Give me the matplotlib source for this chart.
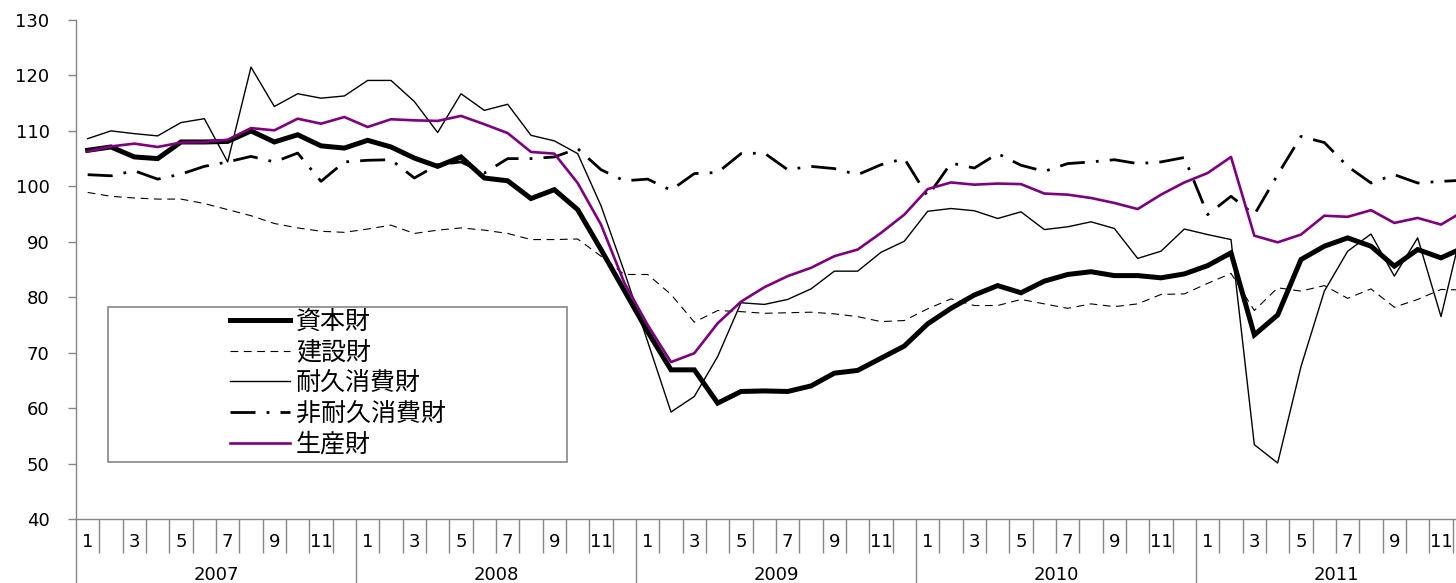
import numpy as np
import matplotlib
matplotlib.use("Agg")
import matplotlib.pyplot as plt
from matplotlib.patches import Rectangle

plt.rcParams['font.family'] = ['DejaVu Sans', 'Noto Sans CJK JP']

# 月次データ 2007/1 - 2011/12
years = ['2007', '2008', '2009', '2010', '2011']
month_labels = ['1', '', '3', '', '5', '', '7', '', '9', '', '11', ''] * 5

series_names = ['資本財', '建設財', '耐久消費財', '非耐久消費財', '生産財']

capital = [106.5, 107.1, 105.3, 105.0, 108.0, 108.0, 108.1, 110.0, 108.0, 109.3, 107.3, 106.9,
           108.3, 107.1, 105.1, 103.6, 105.3, 101.5, 101.0, 97.8, 99.4, 95.8, 88.6, 81.2,
           73.8, 66.9, 66.9, 60.9, 63.0, 63.1, 63.0, 64.0, 66.3, 66.8, 69.0, 71.2,
           75.2, 78.0, 80.4, 82.1, 80.8, 82.9, 84.1, 84.6, 83.9, 83.9, 83.5, 84.2,
           85.7, 88.0, 73.2, 76.8, 86.8, 89.2, 90.7, 89.2, 85.6, 88.6, 87.1, 89.0]

construction = [98.9, 98.2, 97.9, 97.7, 97.7, 96.9, 95.8, 94.7, 93.3, 92.5, 91.9, 91.7,
                92.3, 93.0, 91.5, 92.1, 92.5, 92.1, 91.5, 90.4, 90.4, 90.5, 87.4, 84.1,
                84.1, 80.5, 75.5, 77.6, 77.4, 77.1, 77.2, 77.3, 77.0, 76.5, 75.6, 75.8,
                77.9, 79.7, 78.5, 78.5, 79.6, 78.8, 78.0, 78.8, 78.3, 78.8, 80.5, 80.6,
                82.5, 84.3, 77.6, 81.7, 81.1, 82.1, 79.8, 81.5, 78.2, 79.6, 81.4, 81.3]

durable = [108.6, 110.0, 109.5, 109.1, 111.5, 112.2, 104.4, 121.5, 114.4, 116.7, 115.9, 116.3,
           119.1, 119.1, 115.3, 109.7, 116.7, 113.7, 114.8, 109.2, 108.2, 105.9, 96.5, 84.6,
           72.0, 59.3, 62.1, 69.3, 79.0, 78.7, 79.6, 81.5, 84.7, 84.7, 88.1, 90.1,
           95.5, 96.0, 95.6, 94.2, 95.4, 92.2, 92.7, 93.6, 92.4, 87.0, 88.3, 92.3,
           91.3, 90.4, 53.4, 50.1, 67.5, 81.1, 88.3, 91.4, 83.8, 90.7, 76.5, 94.1]

nondurable = [102.1, 101.9, 102.8, 101.3, 102.2, 103.6, 104.4, 105.4, 104.4, 106.0, 100.9, 104.4,
              104.7, 104.8, 101.5, 103.9, 104.4, 102.4, 105.0, 105.0, 105.3, 106.8, 103.0, 101.0,
              101.3, 99.3, 102.3, 102.5, 105.9, 106.0, 103.0, 103.6, 103.2, 102.1, 103.9, 105.0,
              98.2, 104.2, 103.3, 105.9, 103.8, 102.7, 104.1, 104.4, 104.8, 104.1, 104.4, 105.2,
              94.9, 98.2, 94.9, 102.1, 109.0, 107.9, 103.6, 100.6, 102.1, 100.6, 100.9, 101.1]

production = [106.3, 107.2, 107.7, 107.1, 107.9, 108.0, 108.4, 110.5, 110.1, 112.2, 111.3, 112.5,
              110.7, 112.1, 111.9, 111.8, 112.7, 111.2, 109.6, 106.2, 105.9, 100.6, 93.1, 82.6,
              75.0, 68.3, 69.9, 75.3, 79.2, 81.8, 83.8, 85.3, 87.4, 88.6, 91.6, 94.9,
              99.5, 100.7, 100.3, 100.5, 100.4, 98.7, 98.5, 97.9, 97.0, 95.9, 98.5, 100.7,
              102.4, 105.3, 91.1, 89.9, 91.3, 94.7, 94.5, 95.7, 93.4, 94.3, 93.1, 95.6]

gray = '#868686'

fig = plt.figure(figsize=(14.56, 5.83), dpi=100)
# 右端はExcelの切り抜きのように図の外まではみ出させる
ax = fig.add_axes([76 / 1456, 64 / 583, 1400 / 1456, 499 / 583])

x = np.arange(len(capital))

l1, = ax.plot(x, capital, color='black', lw=3.6, solid_joinstyle='miter')
l2, = ax.plot(x, construction, color='black', lw=0.8, dashes=(7, 5))
l3, = ax.plot(x, durable, color='black', lw=1.0)
l4, = ax.plot(x, nondurable, color='black', lw=2.0, dashes=(9, 4, 1, 4))
l5, = ax.plot(x, production, color='#800080', lw=1.9)

ax.set_ylim(40, 130)
ax.set_yticks(np.arange(40, 131, 10))
ax.set_xlim(-0.5, len(capital) - 0.5)

for s in ['top', 'right']:
    ax.spines[s].set_visible(False)
for s in ['left', 'bottom']:
    ax.spines[s].set_color(gray)
    ax.spines[s].set_linewidth(1.0)

ax.tick_params(axis='y', direction='out', length=6, width=1, color=gray,
               labelsize=13, pad=13)

# 月の区切り線と年の区切り線
year_bounds = np.arange(-0.5, len(capital), 12)
ax.set_xticks(year_bounds)
ax.set_xticklabels([])
ax.set_xticks(np.arange(-0.5, len(capital), 1), minor=True)
ax.tick_params(axis='x', which='major', direction='out', length=48, width=1, color=gray)
ax.tick_params(axis='x', which='minor', direction='out', length=24.5, width=1, color=gray)

xt = ax.get_xaxis_transform()
for i, lab in enumerate(month_labels):
    ax.text(i, -0.046, lab, transform=xt, ha='center', va='center', fontsize=13)
for k, yr in enumerate(years):
    ax.text(12 * k + 5.5, -0.112, yr, transform=xt, ha='center', va='center', fontsize=13)

# 凡例の枠
fig.add_artist(Rectangle((108 / 1456, (583 - 462) / 583), 459 / 1456, 155 / 583,
                         transform=fig.transFigure, facecolor='white',
                         edgecolor=gray, lw=1.2, zorder=5))
leg = fig.legend([l1, l2, l3, l4, l5], series_names, loc='center',
                 bbox_to_anchor=(338 / 1456, (583 - 383) / 583),
                 frameon=False, fontsize=18, handlelength=2.4, handletextpad=0.25,
                 labelspacing=0.27, borderpad=0)
leg.set_zorder(6)

fig.savefig('out.png', dpi=100)
